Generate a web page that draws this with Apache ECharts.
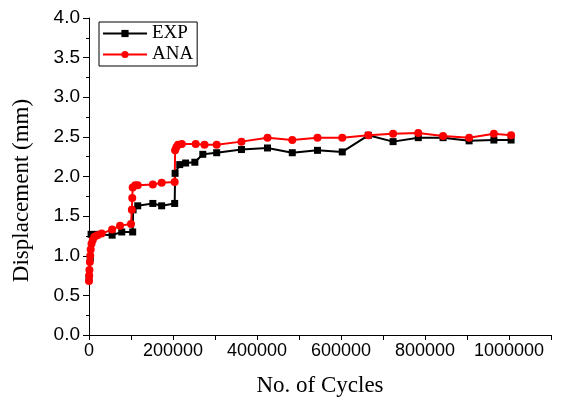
<!DOCTYPE html>
<html>
<head>
<meta charset="utf-8">
<title>Displacement vs cycles</title>
<script src="https://cdn.jsdelivr.net/npm/echarts@6/dist/echarts.min.js"></script>
<style>
    html, body { margin: 0; padding: 0; background: #fff; }
    #main { width: 561px; height: 403px; }
</style>
</head>
<body>
<div id="main"></div>
<script>
var cyclesExp = [0, 3000, 5000, 20000, 55000, 78000, 104000, 105000, 116000, 152000, 173000, 204000,
    205000, 216000, 230000, 252000, 271000, 304000, 363000, 425000, 484000, 544000, 603000,
    665000, 724000, 784000, 843000, 905000, 964000, 1005000];
var dispExp = [0.72, 0.97, 1.27, 1.27, 1.26, 1.30, 1.30, 1.58, 1.63, 1.66, 1.63, 1.66,
    2.04, 2.15, 2.17, 2.18, 2.28, 2.30, 2.34, 2.36, 2.30, 2.33, 2.31,
    2.52, 2.44, 2.49, 2.49, 2.45, 2.46, 2.46];

var cyclesAna = [0, 500, 1000, 2000, 3000, 4000, 6000, 9000, 13000, 20000, 30000, 55000, 74000,
    100000, 102000, 103000, 104000, 110000, 116000, 152000, 173000, 204000,
    205000, 208000, 212000, 221000, 254000, 275000, 304000, 363000, 425000, 484000, 544000,
    603000, 665000, 724000, 784000, 843000, 905000, 964000, 1005000];
var dispAna = [0.68, 0.75, 0.82, 0.92, 1.00, 1.08, 1.15, 1.20, 1.24, 1.26, 1.28, 1.33, 1.38,
    1.40, 1.58, 1.73, 1.86, 1.89, 1.89, 1.90, 1.92, 1.93,
    2.33, 2.37, 2.40, 2.41, 2.41, 2.40, 2.40, 2.44, 2.49, 2.46, 2.49,
    2.49, 2.52, 2.54, 2.55, 2.51, 2.49, 2.54, 2.52];

var xTicks = [0, 200000, 400000, 600000, 800000, 1000000];

function pairUp(xs, ys) {
    var out = [];
    for (var i = 0; i < xs.length; i++) {
        out.push([xs[i], ys[i]]);
    }
    return out;
}

var serifFont = '"Liberation Serif", "Times New Roman", serif';
var sansFont = '"Liberation Sans", Arial, sans-serif';

var myChart = echarts.init(document.getElementById('main'), null, { renderer: 'canvas' });

var option = {
    animation: false,
    backgroundColor: '#fff',
    grid: {
        left: 89,
        right: 10,
        top: 18,
        bottom: 68
    },
    legend: {
        orient: 'vertical',
        left: 99,
        top: 22,
        data: ['EXP', 'ANA'],
        borderColor: '#000',
        borderWidth: 1,
        borderRadius: 0,
        padding: [2, 4, 2, 3],
        itemWidth: 44,
        itemHeight: 9,
        itemGap: 2,
        textStyle: {
            fontFamily: serifFont,
            fontSize: 19,
            color: '#000'
        }
    },
    xAxis: {
        type: 'value',
        min: 0,
        max: 1100000,
        interval: 100000,
        name: 'No. of Cycles',
        nameLocation: 'middle',
        nameGap: 39,
        nameTextStyle: {
            fontFamily: serifFont,
            fontSize: 23,
            color: '#000'
        },
        axisLine: { show: true, lineStyle: { color: '#000', width: 1 } },
        axisTick: { show: true, inside: false, length: 5, lineStyle: { color: '#000' } },
        splitLine: { show: false },
        axisLabel: {
            fontFamily: sansFont,
            fontSize: 18,
            color: '#000',
            margin: 7,
            showMaxLabel: true,
            formatter: function (v) {
                return xTicks.indexOf(v) >= 0 ? String(v) : '';
            }
        }
    },
    yAxis: {
        type: 'value',
        min: 0,
        max: 4,
        interval: 0.5,
        name: 'Displacement (mm)',
        nameLocation: 'middle',
        nameGap: 56,
        nameTextStyle: {
            fontFamily: serifFont,
            fontSize: 23,
            color: '#000',
            padding: [0, 28, 0, 0]
        },
        axisLine: { show: true, lineStyle: { color: '#000', width: 1 } },
        axisTick: { show: true, inside: false, length: 6, lineStyle: { color: '#000' } },
        minorTick: { show: true, splitNumber: 2, length: 3, lineStyle: { color: '#000' } },
        splitLine: { show: false },
        axisLabel: {
            fontFamily: sansFont,
            fontSize: 19,
            color: '#000',
            margin: 9,
            formatter: function (v) {
                return v.toFixed(1);
            }
        }
    },
    series: [
        {
            name: 'EXP',
            type: 'line',
            data: pairUp(cyclesExp, dispExp),
            symbol: 'rect',
            symbolSize: 7,
            itemStyle: { color: '#000' },
            lineStyle: { color: '#000', width: 2 }
        },
        {
            name: 'ANA',
            type: 'line',
            data: pairUp(cyclesAna, dispAna),
            symbol: 'circle',
            symbolSize: 8,
            itemStyle: { color: '#ff0000' },
            lineStyle: { color: '#ff0000', width: 2 }
        }
    ]
};

myChart.setOption(option, true);
window.onresize = myChart.resize;
</script>
</body>
</html>
